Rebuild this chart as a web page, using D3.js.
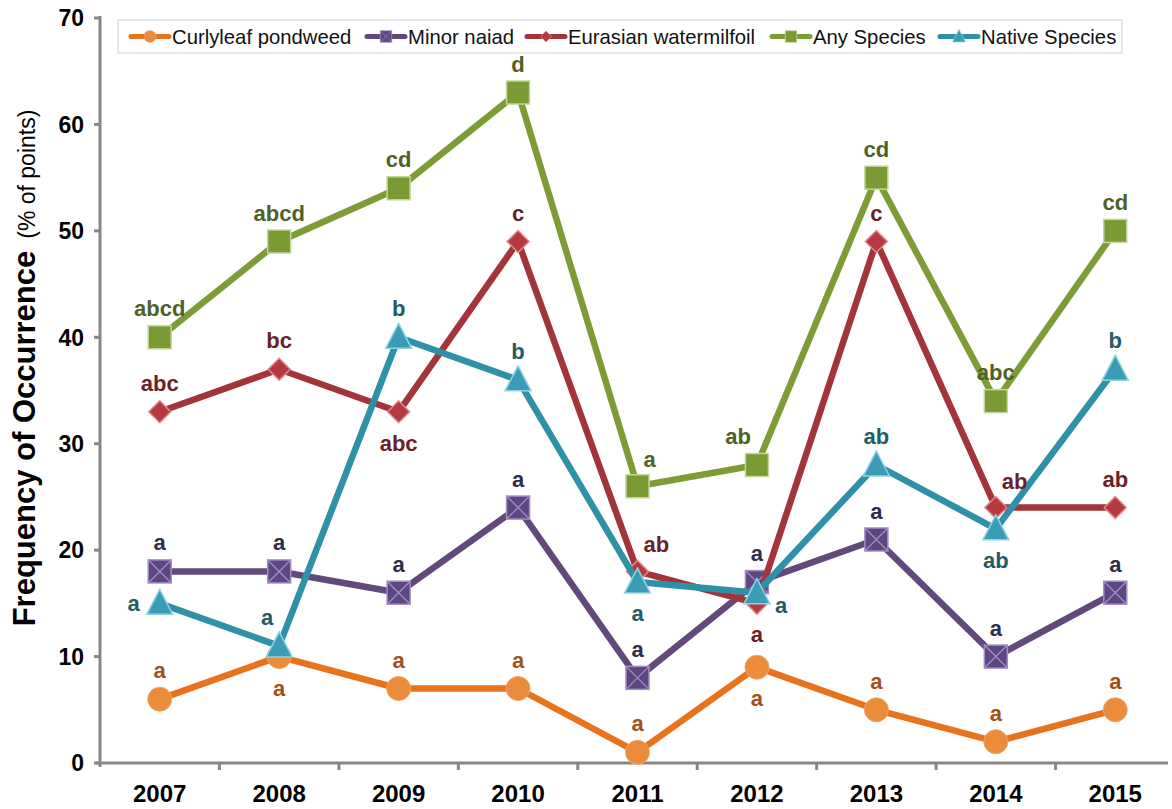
<!DOCTYPE html>
<html><head><meta charset="utf-8">
<script src="https://cdn.jsdelivr.net/npm/d3@7"></script>
<style>body{margin:0;background:#fff}svg{display:block;font-family:"Liberation Sans",Arial,sans-serif}</style>
</head><body><svg id="c" width="1172" height="809"></svg>
<script>
const years = ["2007","2008","2009","2010","2011","2012","2013","2014","2015"];
const yTicks = [0,10,20,30,40,50,60,70];
const seriesNames = ["Curlyleaf pondweed","Minor naiad","Eurasian watermilfoil","Any Species","Native Species"];
const curlyleaf = [6,10,7,7,1,9,5,2,5];
const minorNaiad = [18,18,16,24,8,17,21,10,16];
const eurasian = [33,37,33,49,18,15,49,24,24];
const anySpecies = [40,49,54,63,26,28,55,34,50];
const nativeSpecies = [15,11,40,36,17,16,28,22,37];
const curlyleafLetters = ["a","a","a","a","a","a","a","a","a"];
const minorNaiadLetters = ["a","a","a","a","a","a","a","a","a"];
const eurasianLetters = ["abc","bc","abc","c","ab","a","c","ab","ab"];
const anyLetters = ["abcd","abcd","cd","d","a","ab","cd","abc","cd"];
const nativeLetters = ["a","a","b","b","a","a","ab","ab","b"];

// label placement codes (style, not data)
const curlyPos = ["t","b","t","t","t","b","t","t","t"];
const minorPos = ["t","t","t","t","t","t","t","t","t"];
const eurPos = ["t","t","b","t","tr","b","t","tr","t"];
const anyPos = ["t","t","t","t","tr","tl","t","t","t"];
const natPos = ["l","tl","t","t","b","r","t","b","t"];

const svg = d3.select("#c");
const x = d3.scaleBand().domain(years).range([100,1175]);
const y = d3.scaleLinear().domain([0,70]).range([763,18]);
const cx = d => x(d) + x.bandwidth()/2;

const series = [
  {name:seriesNames[0], vals:curlyleaf, letters:curlyleafLetters, pos:curlyPos, line:"#e8731c", fill:"#eb8b3c", stroke:"#f2a566", text:"#a0521c", shape:"circle"},
  {name:seriesNames[1], vals:minorNaiad, letters:minorNaiadLetters, pos:minorPos, line:"#61497c", fill:"#5d4780", stroke:"#a48cc4", text:"#2f2d4a", shape:"xsquare"},
  {name:seriesNames[2], vals:eurasian, letters:eurasianLetters, pos:eurPos, line:"#a3353a", fill:"#b5393e", stroke:"#e08a8c", text:"#6a1f29", shape:"diamond"},
  {name:seriesNames[3], vals:anySpecies, letters:anyLetters, pos:anyPos, line:"#7e9c36", fill:"#7a9a34", stroke:"#c2d69a", text:"#506127", shape:"square"},
  {name:seriesNames[4], vals:nativeSpecies, letters:nativeLetters, pos:natPos, line:"#2f91a8", fill:"#3a9db5", stroke:"#8fd3e3", text:"#225c66", shape:"triangle"}
];

// axes
const axisCol = "#878787";
const g = svg.append("g");
g.append("line").attr("x1",100).attr("x2",100).attr("y1",16).attr("y2",767).attr("stroke",axisCol).attr("stroke-width",3);
g.append("line").attr("x1",96).attr("x2",1168).attr("y1",763).attr("y2",763).attr("stroke",axisCol).attr("stroke-width",3);
yTicks.forEach(t=>{
  g.append("line").attr("x1",94).attr("x2",100).attr("y1",y(t)).attr("y2",y(t)).attr("stroke",axisCol).attr("stroke-width",3);
  g.append("text").attr("x",84).attr("y",y(t)).attr("dy","0.36em").attr("text-anchor","end")
   .attr("font-size",23).attr("font-weight","bold").attr("textLength",t===0?null:null).text(t);
});
years.forEach((yr,i)=>{
  if(i>0) g.append("line").attr("x1",x(yr)).attr("x2",x(yr)).attr("y1",763).attr("y2",770).attr("stroke",axisCol).attr("stroke-width",3);
  g.append("text").attr("x",cx(yr)).attr("y",802).attr("text-anchor","middle").attr("font-size",24).attr("font-weight","bold").text(yr);
});
// y title
const yt = svg.append("text").attr("transform","translate(35,368) rotate(-90)").attr("text-anchor","middle");
yt.append("tspan").attr("font-size",31).attr("font-weight","bold").text("Frequency of Occurrence");
yt.append("tspan").attr("font-size",23).attr("dx",12).text("(% of points)");

function marker(sel, shape, s, px, py){
  if(shape==="circle"){
    sel.append("circle").attr("cx",px).attr("cy",py).attr("r",12).attr("fill",s.fill).attr("stroke",s.stroke).attr("stroke-width",1);
  } else if(shape==="square" || shape==="xsquare"){
    const h=11.5;
    sel.append("rect").attr("x",px-h).attr("y",py-h).attr("width",2*h).attr("height",2*h).attr("fill",s.fill).attr("stroke",s.stroke).attr("stroke-width",1.5);
    if(shape==="xsquare"){
      sel.append("path").attr("d",`M${px-h},${py-h}L${px+h},${py+h}M${px+h},${py-h}L${px-h},${py+h}`).attr("stroke",s.stroke).attr("stroke-width",1.3);
    }
  } else if(shape==="diamond"){
    const h=11;
    sel.append("path").attr("d",`M${px},${py-h}L${px+h},${py}L${px},${py+h}L${px-h},${py}Z`).attr("fill",s.fill).attr("stroke",s.stroke).attr("stroke-width",1.5);
  } else if(shape==="triangle"){
    const h=12;
    sel.append("path").attr("d",`M${px},${py-h-2}L${px+h+1},${py+h-1}L${px-h-1},${py+h-1}Z`).attr("fill",s.fill).attr("stroke",s.stroke).attr("stroke-width",1.5);
  }
}

const line = d3.line().x((d,i)=>cx(years[i])).y(d=>y(d));
series.forEach(s=>{
  const sg = svg.append("g");
  sg.append("path").attr("d",line(s.vals)).attr("fill","none").attr("stroke",s.line).attr("stroke-width",6.5).attr("stroke-linejoin","round");
  s.vals.forEach((v,i)=>marker(sg,s.shape,s,cx(years[i]),y(v)));
});
// letters on top
series.forEach(s=>{
  s.vals.forEach((v,i)=>{
    const px=cx(years[i]), py=y(v);
    let tx=px, ty=py-21, anchor="middle";
    const p=s.pos[i];
    if(p==="b"){ty=py+39;}
    else if(p==="l"){tx=px-20; ty=py+8; anchor="end";}
    else if(p==="r"){tx=px+18; ty=py+20; anchor="start";}
    else if(p==="tr"){tx=px+6; ty=py-19; anchor="start";}
    else if(p==="tl"){tx=px-6; ty=py-21; anchor="end";}
    svg.append("text").attr("x",tx).attr("y",ty).attr("text-anchor",anchor).attr("font-size",22).attr("font-weight","bold")
      .attr("fill",s.text).text(s.letters[i]);
  });
});

// legend
const lg = svg.append("g");
lg.append("rect").attr("x",118).attr("y",20).attr("width",1004).attr("height",33).attr("fill","#fff").attr("stroke","#cfcfcf").attr("stroke-width",1);
const legX = [131,367,527,772,940];
series.forEach((s,i)=>{
  const lx=legX[i], ly=36.5;
  lg.append("line").attr("x1",lx).attr("x2",lx+38).attr("y1",ly).attr("y2",ly).attr("stroke",s.line).attr("stroke-width",5).attr("stroke-linecap","round");
  const mg = lg.append("g").attr("transform",`translate(${lx+19},${ly}) scale(0.5) translate(${-(lx+19)},${-ly})`);
  marker(mg,s.shape,s,lx+19,ly);
  lg.append("text").attr("x",lx+41).attr("y",ly).attr("dy","0.36em").attr("font-size",20.3).attr("fill","#111").text(s.name);
});
</script></body></html>
